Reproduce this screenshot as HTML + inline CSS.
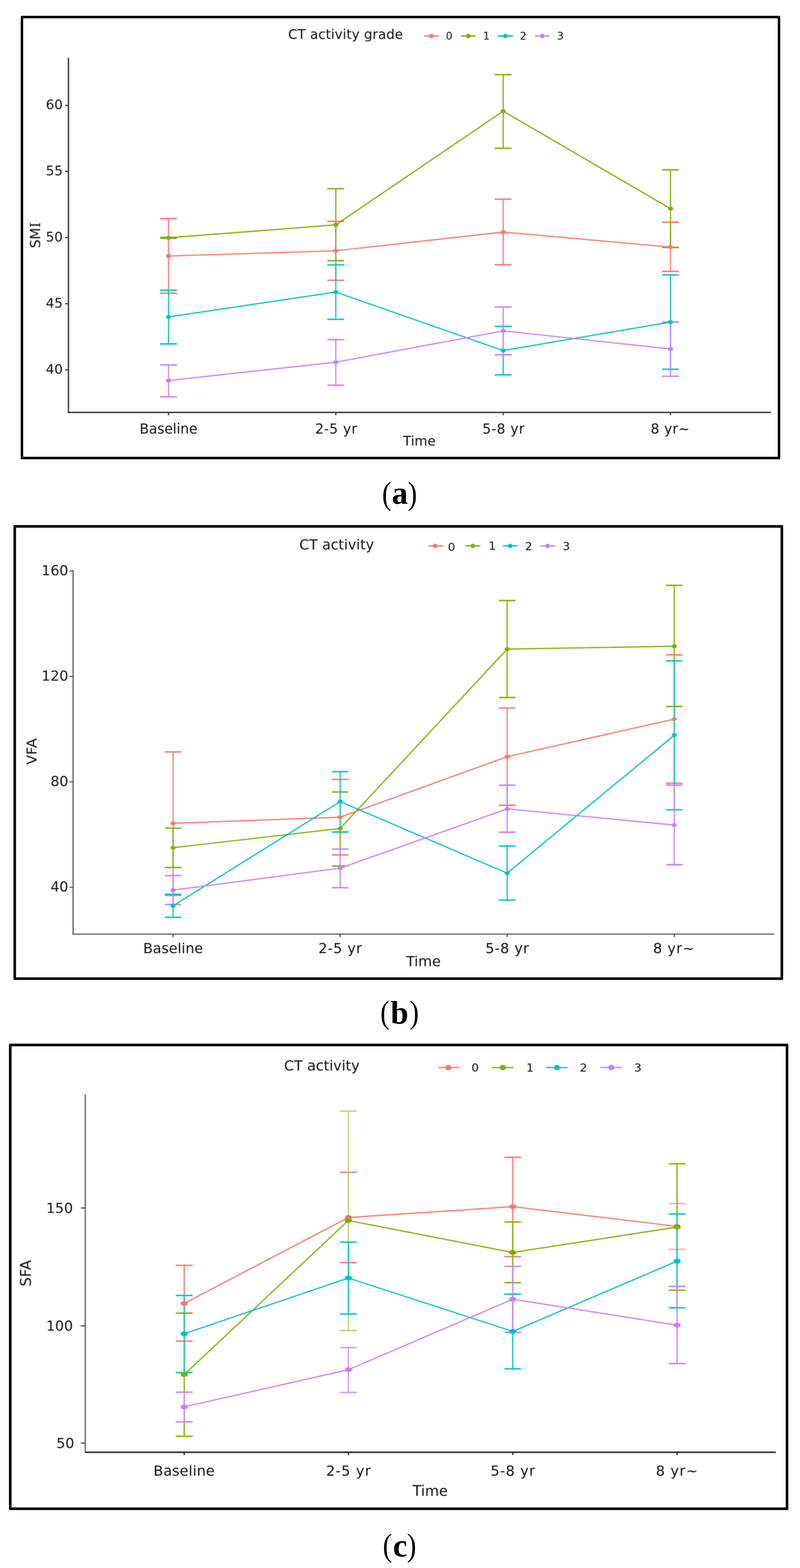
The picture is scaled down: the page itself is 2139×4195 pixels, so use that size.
<!DOCTYPE html>
<html lang="en">
<head>
<meta charset="utf-8">
<title>CT activity grade vs. body composition over time</title>
<style>
html, body { margin: 0; padding: 0; background: #fff; }
body { width: 2139px; height: 4195px; overflow: hidden; }
svg { display: block; font-family: 'DejaVu Sans', 'Liberation Sans', sans-serif; }
</style>
</head>
<body>
<svg width="2139" height="4195" viewBox="0 0 2139 4195">
<defs><filter id="soft" x="-2%" y="-2%" width="104%" height="104%" color-interpolation-filters="sRGB"><feConvolveMatrix order="3" kernelMatrix="1 2 1 2 4 2 1 2 1" divisor="16" edgeMode="none" preserveAlpha="false"/></filter></defs>
<rect x="0" y="0" width="2139" height="4195" fill="#ffffff"/>
<g filter="url(#soft)"><line x1="183" y1="156.2" x2="183" y2="1103.4" stroke="#333333" stroke-width="3.6" stroke-linecap="square"/>
<line x1="181.2" y1="1103.4" x2="2061.4" y2="1103.4" stroke="#333333" stroke-width="3.6" stroke-linecap="butt"/>
<line x1="174" y1="282" x2="183" y2="282" stroke="#333333" stroke-width="3"/>
<text x="167.8" y="292.2" text-anchor="end" font-size="35.5" fill="#161616">60</text>
<line x1="174" y1="458.6" x2="183" y2="458.6" stroke="#333333" stroke-width="3"/>
<text x="167.8" y="468.8" text-anchor="end" font-size="35.5" fill="#161616">55</text>
<line x1="174" y1="635.6" x2="183" y2="635.6" stroke="#333333" stroke-width="3"/>
<text x="167.8" y="645.8" text-anchor="end" font-size="35.5" fill="#161616">50</text>
<line x1="174" y1="812.5" x2="183" y2="812.5" stroke="#333333" stroke-width="3"/>
<text x="167.8" y="822.7" text-anchor="end" font-size="35.5" fill="#161616">45</text>
<line x1="174" y1="989.4" x2="183" y2="989.4" stroke="#333333" stroke-width="3"/>
<text x="167.8" y="999.6" text-anchor="end" font-size="35.5" fill="#161616">40</text>
<line x1="450.6" y1="1103.4" x2="450.6" y2="1111" stroke="#333333" stroke-width="3"/>
<text x="450.6" y="1159.6" text-anchor="middle" font-size="36.5" fill="#111111">Baseline</text>
<line x1="897.8" y1="1103.4" x2="897.8" y2="1111" stroke="#333333" stroke-width="3"/>
<text x="898.6" y="1159.6" text-anchor="middle" font-size="36.5" textLength="112.4" lengthAdjust="spacing" fill="#111111">2-5 yr</text>
<line x1="1345.4" y1="1103.4" x2="1345.4" y2="1111" stroke="#333333" stroke-width="3"/>
<text x="1346" y="1159.6" text-anchor="middle" font-size="36.5" textLength="112.4" lengthAdjust="spacing" fill="#111111">5-8 yr</text>
<line x1="1792.8" y1="1103.4" x2="1792.8" y2="1111" stroke="#333333" stroke-width="3"/>
<text x="1792" y="1159.6" text-anchor="middle" font-size="36.5" textLength="104.3" lengthAdjust="spacing" fill="#111111">8 yr~</text>
<text x="1121.3" y="1192.4" text-anchor="middle" font-size="35.5" fill="#111111">Time</text>
<text x="0" y="0" transform="translate(94.2 629.4) rotate(-90)" text-anchor="middle" dominant-baseline="central" font-size="36.5" fill="#111111">SM<tspan font-family="DejaVu Serif">I</tspan></text>
<text x="770.6" y="103.7" font-size="35.5" textLength="306.8" lengthAdjust="spacing" fill="#111111">CT activity grade</text>
<line x1="1133.7" y1="96.4" x2="1173.3" y2="96.4" stroke="#F8766D" stroke-width="3.8"/>
<ellipse cx="1153.5" cy="96.4" rx="6" ry="6" fill="#F8766D"/>
<text x="1192" y="105.5" font-size="28.5" fill="#111111">0</text>
<line x1="1232.7" y1="96.4" x2="1271.4" y2="96.4" stroke="#7CAE00" stroke-width="3.8"/>
<ellipse cx="1252" cy="96.4" rx="6" ry="6" fill="#7CAE00"/>
<text x="1291.6" y="105.5" font-size="28.5" fill="#111111">1</text>
<line x1="1330.8" y1="96.4" x2="1371.3" y2="96.4" stroke="#00BFC4" stroke-width="3.8"/>
<ellipse cx="1351" cy="96.4" rx="6" ry="6" fill="#00BFC4"/>
<text x="1390" y="105.5" font-size="28.5" fill="#111111">2</text>
<line x1="1430.7" y1="96.4" x2="1468.8" y2="96.4" stroke="#C77CFF" stroke-width="3.8"/>
<ellipse cx="1450" cy="96.4" rx="6" ry="6" fill="#C77CFF"/>
<text x="1489" y="105.5" font-size="28.5" fill="#111111">3</text>
<line x1="450.6" y1="584.7" x2="450.6" y2="784.5" stroke="#F8766D" stroke-width="3.1"/>
<line x1="428" y1="584.7" x2="473.2" y2="584.7" stroke="#F8766D" stroke-width="3.8"/>
<line x1="428" y1="784.5" x2="473.2" y2="784.5" stroke="#F8766D" stroke-width="3.8"/>
<line x1="897.8" y1="592.2" x2="897.8" y2="749.9" stroke="#F8766D" stroke-width="3.1"/>
<line x1="875.2" y1="592.2" x2="920.4" y2="592.2" stroke="#F8766D" stroke-width="3.8"/>
<line x1="875.2" y1="749.9" x2="920.4" y2="749.9" stroke="#F8766D" stroke-width="3.8"/>
<line x1="1345.4" y1="532.8" x2="1345.4" y2="708.3" stroke="#F8766D" stroke-width="3.1"/>
<line x1="1322.8" y1="532.8" x2="1368" y2="532.8" stroke="#F8766D" stroke-width="3.8"/>
<line x1="1322.8" y1="708.3" x2="1368" y2="708.3" stroke="#F8766D" stroke-width="3.8"/>
<line x1="1792.8" y1="594.5" x2="1792.8" y2="726.1" stroke="#F8766D" stroke-width="3.1"/>
<line x1="1770.2" y1="594.5" x2="1815.4" y2="594.5" stroke="#F8766D" stroke-width="3.8"/>
<line x1="1770.2" y1="726.1" x2="1815.4" y2="726.1" stroke="#F8766D" stroke-width="3.8"/>
<line x1="450.6" y1="635.1" x2="450.6" y2="637.3" stroke="#7CAE00" stroke-width="3.1"/>
<line x1="428" y1="635.1" x2="473.2" y2="635.1" stroke="#7CAE00" stroke-width="3.8"/>
<line x1="428" y1="637.3" x2="473.2" y2="637.3" stroke="#7CAE00" stroke-width="3.8"/>
<line x1="897.8" y1="504.8" x2="897.8" y2="697.4" stroke="#7CAE00" stroke-width="3.1"/>
<line x1="875.2" y1="504.8" x2="920.4" y2="504.8" stroke="#7CAE00" stroke-width="3.8"/>
<line x1="875.2" y1="697.4" x2="920.4" y2="697.4" stroke="#7CAE00" stroke-width="3.8"/>
<line x1="1345.4" y1="199.7" x2="1345.4" y2="396.7" stroke="#7CAE00" stroke-width="3.1"/>
<line x1="1322.8" y1="199.7" x2="1368" y2="199.7" stroke="#7CAE00" stroke-width="3.8"/>
<line x1="1322.8" y1="396.7" x2="1368" y2="396.7" stroke="#7CAE00" stroke-width="3.8"/>
<line x1="1792.8" y1="454.4" x2="1792.8" y2="662" stroke="#7CAE00" stroke-width="3.1"/>
<line x1="1770.2" y1="454.4" x2="1815.4" y2="454.4" stroke="#7CAE00" stroke-width="3.8"/>
<line x1="1770.2" y1="662" x2="1815.4" y2="662" stroke="#7CAE00" stroke-width="3.8"/>
<line x1="450.6" y1="776.3" x2="450.6" y2="920" stroke="#00BFC4" stroke-width="3.1"/>
<line x1="428" y1="776.3" x2="473.2" y2="776.3" stroke="#00BFC4" stroke-width="3.8"/>
<line x1="428" y1="920" x2="473.2" y2="920" stroke="#00BFC4" stroke-width="3.8"/>
<line x1="897.8" y1="708.7" x2="897.8" y2="854.4" stroke="#00BFC4" stroke-width="3.1"/>
<line x1="875.2" y1="708.7" x2="920.4" y2="708.7" stroke="#00BFC4" stroke-width="3.8"/>
<line x1="875.2" y1="854.4" x2="920.4" y2="854.4" stroke="#00BFC4" stroke-width="3.8"/>
<line x1="1345.4" y1="873.2" x2="1345.4" y2="1002.9" stroke="#00BFC4" stroke-width="3.1"/>
<line x1="1322.8" y1="873.2" x2="1368" y2="873.2" stroke="#00BFC4" stroke-width="3.8"/>
<line x1="1322.8" y1="1002.9" x2="1368" y2="1002.9" stroke="#00BFC4" stroke-width="3.8"/>
<line x1="1792.8" y1="735.7" x2="1792.8" y2="987.8" stroke="#00BFC4" stroke-width="3.1"/>
<line x1="1770.2" y1="735.7" x2="1815.4" y2="735.7" stroke="#00BFC4" stroke-width="3.8"/>
<line x1="1770.2" y1="987.8" x2="1815.4" y2="987.8" stroke="#00BFC4" stroke-width="3.8"/>
<line x1="450.6" y1="976.4" x2="450.6" y2="1061.6" stroke="#C77CFF" stroke-width="3.1"/>
<line x1="428" y1="976.4" x2="473.2" y2="976.4" stroke="#C77CFF" stroke-width="3.8"/>
<line x1="428" y1="1061.6" x2="473.2" y2="1061.6" stroke="#C77CFF" stroke-width="3.8"/>
<line x1="897.8" y1="908.6" x2="897.8" y2="1030.6" stroke="#C77CFF" stroke-width="3.1"/>
<line x1="875.2" y1="908.6" x2="920.4" y2="908.6" stroke="#C77CFF" stroke-width="3.8"/>
<line x1="875.2" y1="1030.6" x2="920.4" y2="1030.6" stroke="#C77CFF" stroke-width="3.8"/>
<line x1="1345.4" y1="821.4" x2="1345.4" y2="949.2" stroke="#C77CFF" stroke-width="3.1"/>
<line x1="1322.8" y1="821.4" x2="1368" y2="821.4" stroke="#C77CFF" stroke-width="3.8"/>
<line x1="1322.8" y1="949.2" x2="1368" y2="949.2" stroke="#C77CFF" stroke-width="3.8"/>
<line x1="1792.8" y1="861.7" x2="1792.8" y2="1006.6" stroke="#C77CFF" stroke-width="3.1"/>
<line x1="1770.2" y1="861.7" x2="1815.4" y2="861.7" stroke="#C77CFF" stroke-width="3.8"/>
<line x1="1770.2" y1="1006.6" x2="1815.4" y2="1006.6" stroke="#C77CFF" stroke-width="3.8"/>
<polyline points="450.6,685 897.8,671 1345.4,620.9 1792.8,661" fill="none" stroke="#F8766D" stroke-width="3.2" stroke-linejoin="round"/>
<polyline points="450.6,636.2 897.8,601.5 1345.4,297.4 1792.8,558.2" fill="none" stroke="#7CAE00" stroke-width="3.2" stroke-linejoin="round"/>
<polyline points="450.6,847.9 897.8,781.4 1345.4,937.9 1792.8,861.7" fill="none" stroke="#00BFC4" stroke-width="3.2" stroke-linejoin="round"/>
<polyline points="450.6,1018 897.8,969 1345.4,885.2 1792.8,933.7" fill="none" stroke="#C77CFF" stroke-width="3.2" stroke-linejoin="round"/>
<ellipse cx="450.6" cy="685" rx="6.8" ry="5.5" fill="#F8766D"/>
<ellipse cx="897.8" cy="671" rx="6.8" ry="5.5" fill="#F8766D"/>
<ellipse cx="1345.4" cy="620.9" rx="6.8" ry="5.5" fill="#F8766D"/>
<ellipse cx="1792.8" cy="661" rx="6.8" ry="5.5" fill="#F8766D"/>
<ellipse cx="450.6" cy="636.2" rx="6.8" ry="5.5" fill="#7CAE00"/>
<ellipse cx="897.8" cy="601.5" rx="6.8" ry="5.5" fill="#7CAE00"/>
<ellipse cx="1345.4" cy="297.4" rx="6.8" ry="5.5" fill="#7CAE00"/>
<ellipse cx="1792.8" cy="558.2" rx="6.8" ry="5.5" fill="#7CAE00"/>
<ellipse cx="450.6" cy="847.9" rx="6.8" ry="5.5" fill="#00BFC4"/>
<ellipse cx="897.8" cy="781.4" rx="6.8" ry="5.5" fill="#00BFC4"/>
<ellipse cx="1345.4" cy="937.9" rx="6.8" ry="5.5" fill="#00BFC4"/>
<ellipse cx="1792.8" cy="861.7" rx="6.8" ry="5.5" fill="#00BFC4"/>
<ellipse cx="450.6" cy="1018" rx="6.8" ry="5.5" fill="#C77CFF"/>
<ellipse cx="897.8" cy="969" rx="6.8" ry="5.5" fill="#C77CFF"/>
<ellipse cx="1345.4" cy="885.2" rx="6.8" ry="5.5" fill="#C77CFF"/>
<ellipse cx="1792.8" cy="933.7" rx="6.8" ry="5.5" fill="#C77CFF"/></g>
<g><rect x="58.7" y="45.6" width="2024.2" height="1179.8" fill="none" stroke="#000" stroke-width="6.6" stroke-linejoin="round"/>
<text transform="translate(1021.6 1348.9) scale(0.87 1)" font-family="'Liberation Serif', 'Times New Roman', serif" font-size="86" fill="#000">(</text>
<text x="1047.7" y="1347.9" font-family="'Liberation Serif', 'Times New Roman', serif" font-size="86" font-weight="bold" fill="#000">a</text>
<text transform="translate(1090.2 1348.9) scale(0.87 1)" font-family="'Liberation Serif', 'Times New Roman', serif" font-size="86" fill="#000">)</text></g>
<g filter="url(#soft)"><line x1="195.4" y1="1526.5" x2="195.4" y2="2499.2" stroke="#444444" stroke-width="2.8" stroke-linecap="square"/>
<line x1="194" y1="2499.2" x2="2070" y2="2499.2" stroke="#444444" stroke-width="2.8" stroke-linecap="butt"/>
<line x1="186" y1="1528" x2="195.4" y2="1528" stroke="#444444" stroke-width="2.8"/>
<text x="182.7" y="1539.2" text-anchor="end" font-size="37.5" fill="#161616">160</text>
<line x1="186" y1="1809.5" x2="195.4" y2="1809.5" stroke="#444444" stroke-width="2.8"/>
<text x="182.7" y="1820.7" text-anchor="end" font-size="37.5" fill="#161616">120</text>
<line x1="186" y1="2092" x2="195.4" y2="2092" stroke="#444444" stroke-width="2.8"/>
<text x="182.7" y="2103.2" text-anchor="end" font-size="37.5" fill="#161616">80</text>
<line x1="186" y1="2374.1" x2="195.4" y2="2374.1" stroke="#444444" stroke-width="2.8"/>
<text x="182.7" y="2385.3" text-anchor="end" font-size="37.5" fill="#161616">40</text>
<line x1="462.8" y1="2499.2" x2="462.8" y2="2507" stroke="#444444" stroke-width="3"/>
<text x="462.8" y="2549.5" text-anchor="middle" font-size="37.5" textLength="160.3" lengthAdjust="spacing" fill="#111111">Baseline</text>
<line x1="909.5" y1="2499.2" x2="909.5" y2="2507" stroke="#444444" stroke-width="3"/>
<text x="909.5" y="2549.5" text-anchor="middle" font-size="37.5" textLength="116.3" lengthAdjust="spacing" fill="#111111">2-5 yr</text>
<line x1="1356" y1="2499.2" x2="1356" y2="2507" stroke="#444444" stroke-width="3"/>
<text x="1356" y="2549.5" text-anchor="middle" font-size="37.5" textLength="116.3" lengthAdjust="spacing" fill="#111111">5-8 yr</text>
<line x1="1802.8" y1="2499.2" x2="1802.8" y2="2507" stroke="#444444" stroke-width="3"/>
<text x="1801.3" y="2549.5" text-anchor="middle" font-size="37.5" textLength="110.3" lengthAdjust="spacing" fill="#111111">8 yr~</text>
<text x="1132.2" y="2585.3" text-anchor="middle" font-size="37.8" fill="#111111">Time</text>
<text x="0" y="0" transform="translate(85 2010.4) rotate(-90)" text-anchor="middle" dominant-baseline="central" font-size="38" fill="#111111">VFA</text>
<text x="800.3" y="1470.3" font-size="37.6" fill="#111111">CT activity</text>
<line x1="1145.8" y1="1460.5" x2="1184.8" y2="1460.5" stroke="#F8766D" stroke-width="3.6"/>
<ellipse cx="1163.5" cy="1460.5" rx="6" ry="6" fill="#F8766D"/>
<text x="1197.5" y="1473.7" font-size="31" fill="#111111">0</text>
<line x1="1244.2" y1="1460.5" x2="1284.5" y2="1460.5" stroke="#7CAE00" stroke-width="3.6"/>
<ellipse cx="1264" cy="1460.5" rx="6" ry="6" fill="#7CAE00"/>
<text x="1306.2" y="1470.5" font-size="31" fill="#111111">1</text>
<line x1="1344.8" y1="1460.5" x2="1383.8" y2="1460.5" stroke="#00BFC4" stroke-width="3.6"/>
<ellipse cx="1364" cy="1460.5" rx="6" ry="6" fill="#00BFC4"/>
<text x="1403.7" y="1471.5" font-size="31" fill="#111111">2</text>
<line x1="1444.7" y1="1460.5" x2="1485" y2="1460.5" stroke="#C77CFF" stroke-width="3.6"/>
<ellipse cx="1464.2" cy="1460.5" rx="6" ry="6" fill="#C77CFF"/>
<text x="1504.2" y="1471.5" font-size="31" fill="#111111">3</text>
<line x1="462.8" y1="2011.7" x2="462.8" y2="2395.5" stroke="#F8766D" stroke-width="3.1"/>
<line x1="440.8" y1="2011.7" x2="484.8" y2="2011.7" stroke="#F8766D" stroke-width="3.8"/>
<line x1="440.8" y1="2395.5" x2="484.8" y2="2395.5" stroke="#F8766D" stroke-width="3.8"/>
<line x1="909.5" y1="2085.2" x2="909.5" y2="2287.4" stroke="#F8766D" stroke-width="3.1"/>
<line x1="887.5" y1="2085.2" x2="931.5" y2="2085.2" stroke="#F8766D" stroke-width="3.8"/>
<line x1="887.5" y1="2287.4" x2="931.5" y2="2287.4" stroke="#F8766D" stroke-width="3.8"/>
<line x1="1356" y1="1894.3" x2="1356" y2="2154.5" stroke="#F8766D" stroke-width="3.1"/>
<line x1="1334" y1="1894.3" x2="1378" y2="1894.3" stroke="#F8766D" stroke-width="3.8"/>
<line x1="1334" y1="2154.5" x2="1378" y2="2154.5" stroke="#F8766D" stroke-width="3.8"/>
<line x1="1802.8" y1="1752" x2="1802.8" y2="2095.4" stroke="#F8766D" stroke-width="3.1"/>
<line x1="1780.8" y1="1752" x2="1824.8" y2="1752" stroke="#F8766D" stroke-width="3.8"/>
<line x1="1780.8" y1="2095.4" x2="1824.8" y2="2095.4" stroke="#F8766D" stroke-width="3.8"/>
<line x1="462.8" y1="2215.6" x2="462.8" y2="2320.9" stroke="#7CAE00" stroke-width="3.1"/>
<line x1="440.8" y1="2215.6" x2="484.8" y2="2215.6" stroke="#7CAE00" stroke-width="3.8"/>
<line x1="440.8" y1="2320.9" x2="484.8" y2="2320.9" stroke="#7CAE00" stroke-width="3.8"/>
<line x1="909.5" y1="2118.8" x2="909.5" y2="2316.9" stroke="#7CAE00" stroke-width="3.1"/>
<line x1="887.5" y1="2118.8" x2="931.5" y2="2118.8" stroke="#7CAE00" stroke-width="3.8"/>
<line x1="887.5" y1="2316.9" x2="931.5" y2="2316.9" stroke="#7CAE00" stroke-width="3.8"/>
<line x1="1356" y1="1606.7" x2="1356" y2="1866.2" stroke="#7CAE00" stroke-width="3.1"/>
<line x1="1334" y1="1606.7" x2="1378" y2="1606.7" stroke="#7CAE00" stroke-width="3.8"/>
<line x1="1334" y1="1866.2" x2="1378" y2="1866.2" stroke="#7CAE00" stroke-width="3.8"/>
<line x1="1802.8" y1="1566.1" x2="1802.8" y2="1890.1" stroke="#7CAE00" stroke-width="3.1"/>
<line x1="1780.8" y1="1566.1" x2="1824.8" y2="1566.1" stroke="#7CAE00" stroke-width="3.8"/>
<line x1="1780.8" y1="1890.1" x2="1824.8" y2="1890.1" stroke="#7CAE00" stroke-width="3.8"/>
<line x1="462.8" y1="2392.6" x2="462.8" y2="2454.2" stroke="#00BFC4" stroke-width="3.1"/>
<line x1="440.8" y1="2392.6" x2="484.8" y2="2392.6" stroke="#00BFC4" stroke-width="3.8"/>
<line x1="440.8" y1="2454.2" x2="484.8" y2="2454.2" stroke="#00BFC4" stroke-width="3.8"/>
<line x1="909.5" y1="2064.6" x2="909.5" y2="2226" stroke="#00BFC4" stroke-width="3.1"/>
<line x1="887.5" y1="2064.6" x2="931.5" y2="2064.6" stroke="#00BFC4" stroke-width="3.8"/>
<line x1="887.5" y1="2226" x2="931.5" y2="2226" stroke="#00BFC4" stroke-width="3.8"/>
<line x1="1356" y1="2263.5" x2="1356" y2="2408.1" stroke="#00BFC4" stroke-width="3.1"/>
<line x1="1334" y1="2263.5" x2="1378" y2="2263.5" stroke="#00BFC4" stroke-width="3.8"/>
<line x1="1334" y1="2408.1" x2="1378" y2="2408.1" stroke="#00BFC4" stroke-width="3.8"/>
<line x1="1802.8" y1="1768.2" x2="1802.8" y2="2166.4" stroke="#00BFC4" stroke-width="3.1"/>
<line x1="1780.8" y1="1768.2" x2="1824.8" y2="1768.2" stroke="#00BFC4" stroke-width="3.8"/>
<line x1="1780.8" y1="2166.4" x2="1824.8" y2="2166.4" stroke="#00BFC4" stroke-width="3.8"/>
<line x1="462.8" y1="2342.7" x2="462.8" y2="2420" stroke="#C77CFF" stroke-width="3.1"/>
<line x1="440.8" y1="2342.7" x2="484.8" y2="2342.7" stroke="#C77CFF" stroke-width="3.8"/>
<line x1="440.8" y1="2420" x2="484.8" y2="2420" stroke="#C77CFF" stroke-width="3.8"/>
<line x1="909.5" y1="2271.6" x2="909.5" y2="2374.8" stroke="#C77CFF" stroke-width="3.1"/>
<line x1="887.5" y1="2271.6" x2="931.5" y2="2271.6" stroke="#C77CFF" stroke-width="3.8"/>
<line x1="887.5" y1="2374.8" x2="931.5" y2="2374.8" stroke="#C77CFF" stroke-width="3.8"/>
<line x1="1356" y1="2100.7" x2="1356" y2="2226.5" stroke="#C77CFF" stroke-width="3.1"/>
<line x1="1334" y1="2100.7" x2="1378" y2="2100.7" stroke="#C77CFF" stroke-width="3.8"/>
<line x1="1334" y1="2226.5" x2="1378" y2="2226.5" stroke="#C77CFF" stroke-width="3.8"/>
<line x1="1802.8" y1="2100.5" x2="1802.8" y2="2313.5" stroke="#C77CFF" stroke-width="3.1"/>
<line x1="1780.8" y1="2100.5" x2="1824.8" y2="2100.5" stroke="#C77CFF" stroke-width="3.8"/>
<line x1="1780.8" y1="2313.5" x2="1824.8" y2="2313.5" stroke="#C77CFF" stroke-width="3.8"/>
<polyline points="462.8,2202.6 909.5,2186.3 1356,2024.4 1802.8,1924" fill="none" stroke="#F8766D" stroke-width="3.2" stroke-linejoin="round"/>
<polyline points="462.8,2268 909.5,2216.5 1356,1736.6 1802.8,1728.9" fill="none" stroke="#7CAE00" stroke-width="3.2" stroke-linejoin="round"/>
<polyline points="462.8,2423.4 909.5,2144.5 1356,2336.1 1802.8,1966.9" fill="none" stroke="#00BFC4" stroke-width="3.2" stroke-linejoin="round"/>
<polyline points="462.8,2381.4 909.5,2322.7 1356,2164.1 1802.8,2207.3" fill="none" stroke="#C77CFF" stroke-width="3.2" stroke-linejoin="round"/>
<ellipse cx="462.8" cy="2202.6" rx="6.8" ry="5.4" fill="#F8766D"/>
<ellipse cx="909.5" cy="2186.3" rx="6.8" ry="5.4" fill="#F8766D"/>
<ellipse cx="1356" cy="2024.4" rx="6.8" ry="5.4" fill="#F8766D"/>
<ellipse cx="1802.8" cy="1924" rx="6.8" ry="5.4" fill="#F8766D"/>
<ellipse cx="462.8" cy="2268" rx="6.8" ry="5.4" fill="#7CAE00"/>
<ellipse cx="909.5" cy="2216.5" rx="6.8" ry="5.4" fill="#7CAE00"/>
<ellipse cx="1356" cy="1736.6" rx="6.8" ry="5.4" fill="#7CAE00"/>
<ellipse cx="1802.8" cy="1728.9" rx="6.8" ry="5.4" fill="#7CAE00"/>
<ellipse cx="462.8" cy="2423.4" rx="6.8" ry="5.4" fill="#00BFC4"/>
<ellipse cx="909.5" cy="2144.5" rx="6.8" ry="5.4" fill="#00BFC4"/>
<ellipse cx="1356" cy="2336.1" rx="6.8" ry="5.4" fill="#00BFC4"/>
<ellipse cx="1802.8" cy="1966.9" rx="6.8" ry="5.4" fill="#00BFC4"/>
<ellipse cx="462.8" cy="2381.4" rx="6.8" ry="5.4" fill="#C77CFF"/>
<ellipse cx="909.5" cy="2322.7" rx="6.8" ry="5.4" fill="#C77CFF"/>
<ellipse cx="1356" cy="2164.1" rx="6.8" ry="5.4" fill="#C77CFF"/>
<ellipse cx="1802.8" cy="2207.3" rx="6.8" ry="5.4" fill="#C77CFF"/></g>
<g><rect x="39.4" y="1408.3" width="2051.1" height="1209.9" fill="none" stroke="#000" stroke-width="7" stroke-linejoin="round"/>
<text transform="translate(1016.7 2736.8) scale(0.87 1)" font-family="'Liberation Serif', 'Times New Roman', serif" font-size="86" fill="#000">(</text>
<text x="1044.2" y="2737.5" font-family="'Liberation Serif', 'Times New Roman', serif" font-size="86" font-weight="bold" fill="#000">b</text>
<text transform="translate(1095 2736.8) scale(0.87 1)" font-family="'Liberation Serif', 'Times New Roman', serif" font-size="86" fill="#000">)</text></g>
<g filter="url(#soft)"><line x1="228" y1="2929.4" x2="228" y2="3885.4" stroke="#444444" stroke-width="2.8" stroke-linecap="square"/>
<line x1="227" y1="3885.4" x2="2074.2" y2="3885.4" stroke="#161616" stroke-width="3.6" stroke-linecap="butt"/>
<line x1="216" y1="3231.9" x2="228" y2="3231.9" stroke="#444444" stroke-width="3.2"/>
<text x="195" y="3244.7" text-anchor="end" font-size="37.5" fill="#161616">150</text>
<line x1="216" y1="3547.2" x2="228" y2="3547.2" stroke="#444444" stroke-width="3.2"/>
<text x="195" y="3560" text-anchor="end" font-size="37.5" fill="#161616">100</text>
<line x1="216" y1="3860.8" x2="228" y2="3860.8" stroke="#444444" stroke-width="3.2"/>
<text x="198.5" y="3873.6" text-anchor="end" font-size="37.5" fill="#161616">50</text>
<line x1="492.6" y1="3885.4" x2="492.6" y2="3893" stroke="#161616" stroke-width="3"/>
<text x="492.1" y="3948" text-anchor="middle" font-size="38" textLength="163.8" lengthAdjust="spacing" fill="#111111">Baseline</text>
<line x1="931.5" y1="3885.4" x2="931.5" y2="3893" stroke="#161616" stroke-width="3"/>
<text x="931.5" y="3948" text-anchor="middle" font-size="38" textLength="119.6" lengthAdjust="spacing" fill="#111111">2-5 yr</text>
<line x1="1370.9" y1="3885.4" x2="1370.9" y2="3893" stroke="#161616" stroke-width="3"/>
<text x="1370.9" y="3948" text-anchor="middle" font-size="38" textLength="119" lengthAdjust="spacing" fill="#111111">5-8 yr</text>
<line x1="1810.3" y1="3885.4" x2="1810.3" y2="3893" stroke="#161616" stroke-width="3"/>
<text x="1809.7" y="3948" text-anchor="middle" font-size="38" textLength="112.2" lengthAdjust="spacing" fill="#111111">8 yr~</text>
<text x="1150.3" y="4002.2" text-anchor="middle" font-size="38.5" fill="#111111">Time</text>
<text x="0" y="0" transform="translate(68.5 3406.5) rotate(-90)" text-anchor="middle" dominant-baseline="central" font-size="39.5" fill="#111111">SFA</text>
<text x="759.5" y="2863.7" font-size="38" fill="#111111">CT activity</text>
<line x1="1171.2" y1="2856.2" x2="1228.6" y2="2856.2" stroke="#F8766D" stroke-width="3.2"/>
<ellipse cx="1198.6" cy="2856.2" rx="8.3" ry="7.1" fill="#F8766D"/>
<text x="1260.6" y="2866.5" font-size="31" fill="#111111">0</text>
<line x1="1315.6" y1="2856.2" x2="1373" y2="2856.2" stroke="#7CAE00" stroke-width="3.2"/>
<ellipse cx="1344.3" cy="2856.2" rx="8.3" ry="7.1" fill="#7CAE00"/>
<text x="1407.3" y="2866.5" font-size="31" fill="#111111">1</text>
<line x1="1460.5" y1="2856.2" x2="1517.5" y2="2856.2" stroke="#00BFC4" stroke-width="3.2"/>
<ellipse cx="1489.2" cy="2856.2" rx="8.3" ry="7.1" fill="#00BFC4"/>
<text x="1550" y="2866.5" font-size="31" fill="#111111">2</text>
<line x1="1605" y1="2856.2" x2="1662.4" y2="2856.2" stroke="#C77CFF" stroke-width="3.2"/>
<ellipse cx="1634.5" cy="2856.2" rx="8.3" ry="7.1" fill="#C77CFF"/>
<text x="1695.7" y="2866.5" font-size="31" fill="#111111">3</text>
<line x1="492.6" y1="3385.3" x2="492.6" y2="3588.2" stroke="#F8766D" stroke-width="3.3"/>
<line x1="470.2" y1="3385.3" x2="515" y2="3385.3" stroke="#F8766D" stroke-width="3.8"/>
<line x1="470.2" y1="3588.2" x2="515" y2="3588.2" stroke="#F8766D" stroke-width="3.8"/>
<line x1="931.5" y1="3136.3" x2="931.5" y2="3378" stroke="#F8766D" stroke-width="3.3"/>
<line x1="909.1" y1="3136.3" x2="953.9" y2="3136.3" stroke="#F8766D" stroke-width="3.8"/>
<line x1="909.1" y1="3378" x2="953.9" y2="3378" stroke="#F8766D" stroke-width="3.8"/>
<line x1="1370.9" y1="3096.3" x2="1370.9" y2="3361.9" stroke="#F8766D" stroke-width="3.3"/>
<line x1="1348.5" y1="3096.3" x2="1393.3" y2="3096.3" stroke="#F8766D" stroke-width="3.8"/>
<line x1="1348.5" y1="3361.9" x2="1393.3" y2="3361.9" stroke="#F8766D" stroke-width="3.8"/>
<line x1="1810.3" y1="3219.8" x2="1810.3" y2="3342.5" stroke="#fbada7" stroke-width="3.3"/>
<line x1="1787.9" y1="3219.8" x2="1832.7" y2="3219.8" stroke="#fbada7" stroke-width="3.8"/>
<line x1="1787.9" y1="3342.5" x2="1832.7" y2="3342.5" stroke="#fbada7" stroke-width="3.8"/>
<line x1="492.6" y1="3513.1" x2="492.6" y2="3842.6" stroke="#7CAE00" stroke-width="3.3"/>
<line x1="470.2" y1="3513.1" x2="515" y2="3513.1" stroke="#7CAE00" stroke-width="3.8"/>
<line x1="470.2" y1="3842.6" x2="515" y2="3842.6" stroke="#7CAE00" stroke-width="3.8"/>
<line x1="931.5" y1="2972.5" x2="931.5" y2="3559.7" stroke="#b7d273" stroke-width="3.3"/>
<line x1="909.1" y1="2972.5" x2="953.9" y2="2972.5" stroke="#b7d273" stroke-width="3.8"/>
<line x1="909.1" y1="3559.7" x2="953.9" y2="3559.7" stroke="#b7d273" stroke-width="3.8"/>
<line x1="1370.9" y1="3269.3" x2="1370.9" y2="3431.6" stroke="#7CAE00" stroke-width="3.3"/>
<line x1="1348.5" y1="3269.3" x2="1393.3" y2="3269.3" stroke="#7CAE00" stroke-width="3.8"/>
<line x1="1348.5" y1="3431.6" x2="1393.3" y2="3431.6" stroke="#7CAE00" stroke-width="3.8"/>
<line x1="1810.3" y1="3113.6" x2="1810.3" y2="3451.8" stroke="#7CAE00" stroke-width="3.3"/>
<line x1="1787.9" y1="3113.6" x2="1832.7" y2="3113.6" stroke="#7CAE00" stroke-width="3.8"/>
<line x1="1787.9" y1="3451.8" x2="1832.7" y2="3451.8" stroke="#7CAE00" stroke-width="3.8"/>
<line x1="492.6" y1="3465.8" x2="492.6" y2="3672.2" stroke="#00BFC4" stroke-width="3.3"/>
<line x1="470.2" y1="3465.8" x2="515" y2="3465.8" stroke="#00BFC4" stroke-width="3.8"/>
<line x1="470.2" y1="3672.2" x2="515" y2="3672.2" stroke="#00BFC4" stroke-width="3.8"/>
<line x1="931.5" y1="3323.1" x2="931.5" y2="3515.5" stroke="#00BFC4" stroke-width="3.3"/>
<line x1="909.1" y1="3323.1" x2="953.9" y2="3323.1" stroke="#00BFC4" stroke-width="3.8"/>
<line x1="909.1" y1="3515.5" x2="953.9" y2="3515.5" stroke="#00BFC4" stroke-width="3.8"/>
<line x1="1370.9" y1="3462.5" x2="1370.9" y2="3662.2" stroke="#00BFC4" stroke-width="3.3"/>
<line x1="1348.5" y1="3462.5" x2="1393.3" y2="3462.5" stroke="#00BFC4" stroke-width="3.8"/>
<line x1="1348.5" y1="3662.2" x2="1393.3" y2="3662.2" stroke="#00BFC4" stroke-width="3.8"/>
<line x1="1810.3" y1="3247.9" x2="1810.3" y2="3498.9" stroke="#00BFC4" stroke-width="3.3"/>
<line x1="1787.9" y1="3247.9" x2="1832.7" y2="3247.9" stroke="#00BFC4" stroke-width="3.8"/>
<line x1="1787.9" y1="3498.9" x2="1832.7" y2="3498.9" stroke="#00BFC4" stroke-width="3.8"/>
<line x1="492.6" y1="3724.6" x2="492.6" y2="3804.2" stroke="#C77CFF" stroke-width="3.3"/>
<line x1="470.2" y1="3724.6" x2="515" y2="3724.6" stroke="#C77CFF" stroke-width="3.8"/>
<line x1="470.2" y1="3804.2" x2="515" y2="3804.2" stroke="#C77CFF" stroke-width="3.8"/>
<line x1="931.5" y1="3605.3" x2="931.5" y2="3725.3" stroke="#d296ff" stroke-width="3.3"/>
<line x1="909.1" y1="3605.3" x2="953.9" y2="3605.3" stroke="#d296ff" stroke-width="3.8"/>
<line x1="909.1" y1="3725.3" x2="953.9" y2="3725.3" stroke="#d296ff" stroke-width="3.8"/>
<line x1="1370.9" y1="3388.2" x2="1370.9" y2="3564.5" stroke="#C77CFF" stroke-width="3.3"/>
<line x1="1348.5" y1="3388.2" x2="1393.3" y2="3388.2" stroke="#C77CFF" stroke-width="3.8"/>
<line x1="1348.5" y1="3564.5" x2="1393.3" y2="3564.5" stroke="#C77CFF" stroke-width="3.8"/>
<line x1="1810.3" y1="3441.5" x2="1810.3" y2="3648.1" stroke="#C77CFF" stroke-width="3.3"/>
<line x1="1787.9" y1="3441.5" x2="1832.7" y2="3441.5" stroke="#C77CFF" stroke-width="3.8"/>
<line x1="1787.9" y1="3648.1" x2="1832.7" y2="3648.1" stroke="#C77CFF" stroke-width="3.8"/>
<polyline points="492.6,3487.1 931.5,3257.3 1370.9,3228.2 1810.3,3281" fill="none" stroke="#F8766D" stroke-width="3.2" stroke-linejoin="round"/>
<polyline points="492.6,3677.4 931.5,3265.2 1370.9,3350.9 1810.3,3282.9" fill="none" stroke="#7CAE00" stroke-width="3.2" stroke-linejoin="round"/>
<polyline points="492.6,3568.3 931.5,3419.2 1370.9,3562.1 1810.3,3374" fill="none" stroke="#00BFC4" stroke-width="3.2" stroke-linejoin="round"/>
<polyline points="492.6,3764 931.5,3664.6 1370.9,3476 1810.3,3545.3" fill="none" stroke="#C77CFF" stroke-width="3.2" stroke-linejoin="round"/>
<ellipse cx="492.6" cy="3487.1" rx="9.6" ry="6.6" fill="#F8766D"/>
<ellipse cx="931.5" cy="3257.3" rx="9.6" ry="6.6" fill="#F8766D"/>
<ellipse cx="1370.9" cy="3228.2" rx="9.6" ry="6.6" fill="#F8766D"/>
<ellipse cx="1810.3" cy="3281" rx="9.6" ry="6.6" fill="#F8766D"/>
<ellipse cx="492.6" cy="3677.4" rx="9.6" ry="6.6" fill="#7CAE00"/>
<ellipse cx="931.5" cy="3265.2" rx="9.6" ry="6.6" fill="#7CAE00"/>
<ellipse cx="1370.9" cy="3350.9" rx="9.6" ry="6.6" fill="#7CAE00"/>
<ellipse cx="1810.3" cy="3282.9" rx="9.6" ry="6.6" fill="#7CAE00"/>
<ellipse cx="492.6" cy="3568.3" rx="9.6" ry="6.6" fill="#00BFC4"/>
<ellipse cx="931.5" cy="3419.2" rx="9.6" ry="6.6" fill="#00BFC4"/>
<ellipse cx="1370.9" cy="3562.1" rx="9.6" ry="6.6" fill="#00BFC4"/>
<ellipse cx="1810.3" cy="3374" rx="9.6" ry="6.6" fill="#00BFC4"/>
<ellipse cx="492.6" cy="3764" rx="9.6" ry="6.6" fill="#C77CFF"/>
<ellipse cx="931.5" cy="3664.6" rx="9.6" ry="6.6" fill="#C77CFF"/>
<ellipse cx="1370.9" cy="3476" rx="9.6" ry="6.6" fill="#C77CFF"/>
<ellipse cx="1810.3" cy="3545.3" rx="9.6" ry="6.6" fill="#C77CFF"/></g>
<g><rect x="27.4" y="2795.7" width="2076.9" height="1240.9" fill="none" stroke="#000" stroke-width="7" stroke-linejoin="round"/>
<text transform="translate(1023.4 4162.7) scale(0.87 1)" font-family="'Liberation Serif', 'Times New Roman', serif" font-size="86" fill="#000">(</text>
<text x="1050.7" y="4163.7" font-family="'Liberation Serif', 'Times New Roman', serif" font-size="86" font-weight="bold" fill="#000">c</text>
<text transform="translate(1088.1 4162.7) scale(0.87 1)" font-family="'Liberation Serif', 'Times New Roman', serif" font-size="86" fill="#000">)</text></g>
</svg>
</body>
</html>
